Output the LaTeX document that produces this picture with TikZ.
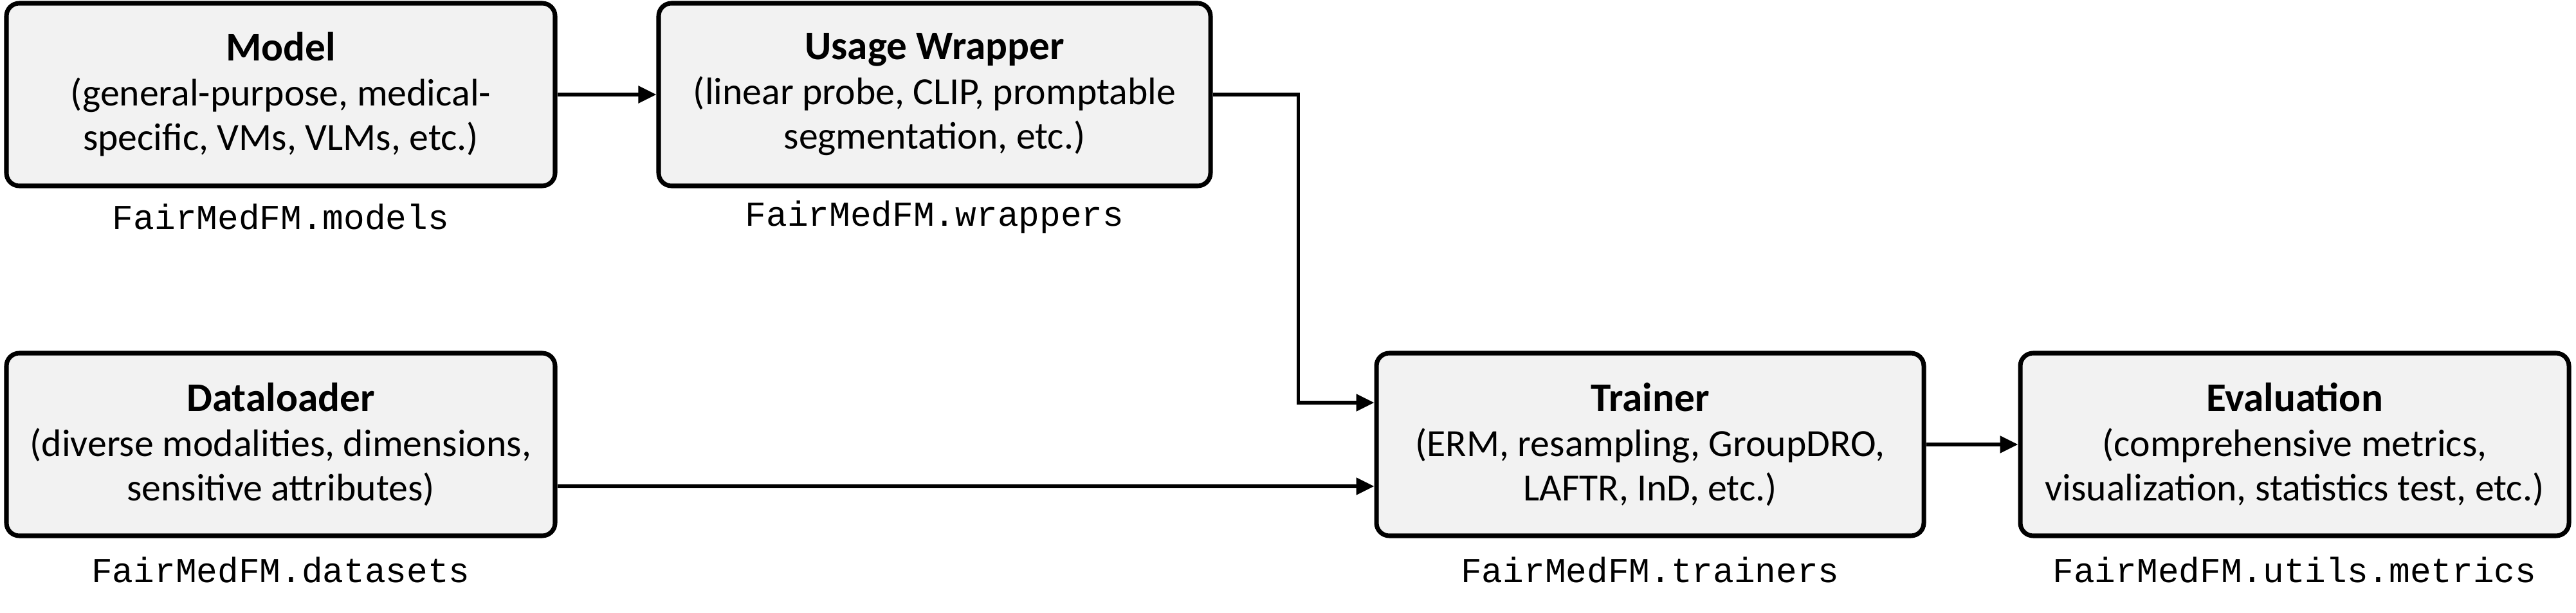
\documentclass[tikz,border=0pt]{standalone}
\usepackage{fontspec}
\setmainfont{Carlito}
\setmonofont{Liberation Mono}
\usetikzlibrary{arrows.meta,calc,positioning}
\definecolor{boxfill}{HTML}{F2F2F2}
\newcommand{\blocktitle}[1]{{\fontsize{18}{19.8}\selectfont\bfseries #1}}

\begin{document}
\begin{tikzpicture}[>={Triangle[length=0.28cm,width=0.26cm]},
  block/.style={draw,line width=2pt,rounded corners=0.2cm,fill=boxfill,minimum width=8.53cm,minimum height=2.84cm,align=center,inner sep=0pt,font=\fontsize{17}{19.8}\selectfont},
  modname/.style={font=\fontsize{15.5}{18}\selectfont\ttfamily},
  link/.style={->,line width=1.6pt}]
  \useasboundingbox (0,0) rectangle (40.05,-9.53);
  % top row
  \node[block] (model) at (4.365,-1.47) {\blocktitle{Model}\\(general-purpose, medical-\\specific, VMs, VLMs, etc.)};
  \node[block,minimum width=8.58cm] (wrapper) at (14.53,-1.47) {\blocktitle{Usage Wrapper}\\(linear probe, CLIP, promptable\\segmentation, etc.)};
  % bottom row
  \node[block] (data) at (4.365,-6.91) {\blocktitle{Dataloader}\\(diverse modalities, dimensions,\\sensitive attributes)};
  \node[block,minimum width=8.51cm] (trainer) at (25.655,-6.91) {\blocktitle{Trainer}\\(ERM, resampling, GroupDRO,\\LAFTR, InD, etc.)};
  \node[block] (eval) at (35.675,-6.91) {\blocktitle{Evaluation}\\(comprehensive metrics,\\visualization, statistics test, etc.)};
  % package names
  \node[modname] (modelpkg) at (4.365,-3.37) {FairMedFM.models};
  \node[modname] (wrapperpkg) at (14.53,-3.37) {FairMedFM.wrappers};
  \node[modname] (datapkg) at (4.365,-8.86) {FairMedFM.datasets};
  \node[modname] (trainerpkg) at (25.655,-8.86) {FairMedFM.trainers};
  \node[modname] (evalpkg) at (35.675,-8.86) {FairMedFM.utils.metrics};
  % connectors
  \draw[link] (model) -- (wrapper);
  \draw[link] (wrapper.east) -- ++(1.33,0) |- ($(trainer.west)+(0,0.65)$);
  \draw[link] ($(data.east)+(0,-0.65)$) -- ($(trainer.west)+(0,-0.65)$);
  \draw[link] (trainer) -- (eval);
\end{tikzpicture}
\end{document}
